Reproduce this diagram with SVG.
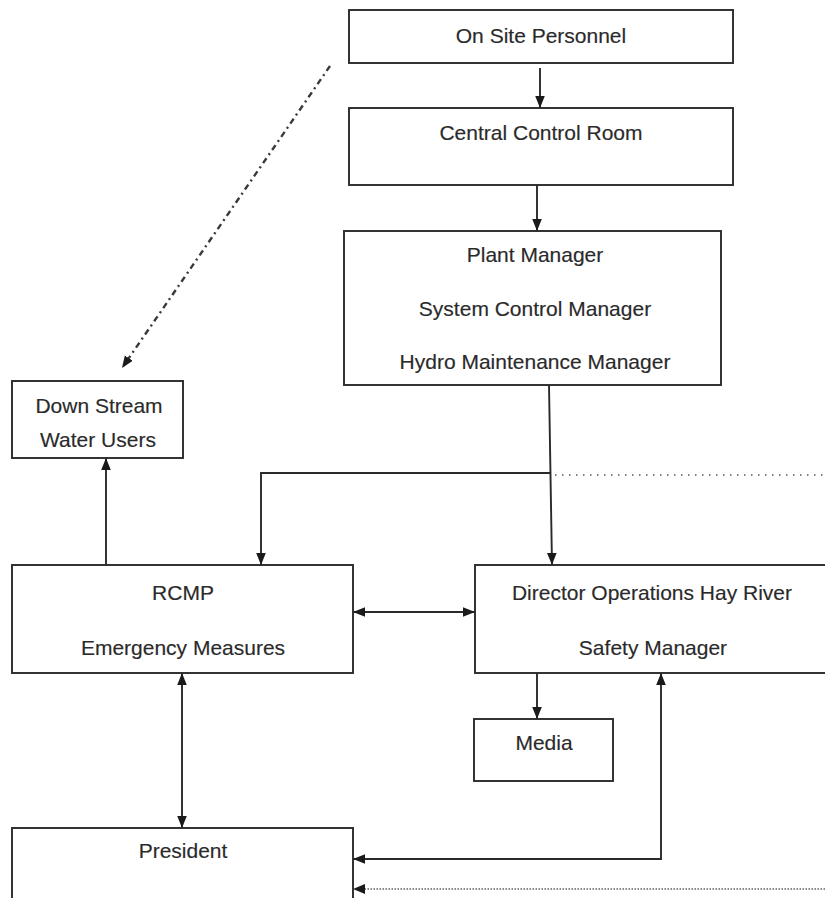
<svg xmlns="http://www.w3.org/2000/svg" width="825" height="898" viewBox="0 0 825 898">
<style>
.box{fill:#fff;stroke:#2a2a2a;stroke-width:1.9}
.t{font-family:"Liberation Sans",Arial,sans-serif;font-size:21px;fill:#2a2a2a;stroke:#2a2a2a;stroke-width:0.15;text-anchor:middle}
.c{fill:none;stroke:#2a2a2a;stroke-width:1.9}
.dot{fill:none;stroke:#555;stroke-width:1.6;stroke-dasharray:1.5 5.5}
.dot2{fill:none;stroke:#888;stroke-width:2;stroke-dasharray:1.5 1.5}
.dd{fill:none;stroke:#3a3a3a;stroke-width:2.4;stroke-dasharray:6 4 2 4}
</style>
<defs>
<marker id="arr" viewBox="0 0 10 10" refX="10" refY="5" markerWidth="12" markerHeight="12" markerUnits="userSpaceOnUse" orient="auto-start-reverse">
<path d="M0,1 L10,5 L0,9 z" fill="#1a1a1a"/>
</marker>
</defs>
<rect width="825" height="898" fill="#fff"/>
<g id="connectors">
<line class="c" x1="540" y1="68" x2="540" y2="108" marker-end="url(#arr)"/>
<line class="c" x1="537" y1="181" x2="537" y2="231" marker-end="url(#arr)"/>
<line class="c" x1="549" y1="385" x2="552" y2="565" marker-end="url(#arr)"/>
<path class="c" d="M551,473 H261 V565" marker-end="url(#arr)"/>
<path class="dot" d="M555,475 H825"/>
<line class="c" x1="106" y1="565" x2="106" y2="458" marker-end="url(#arr)"/>
<line class="c" x1="353" y1="612" x2="475" y2="612" marker-start="url(#arr)" marker-end="url(#arr)"/>
<line class="c" x1="182" y1="673" x2="182" y2="828" marker-start="url(#arr)" marker-end="url(#arr)"/>
<line class="c" x1="537" y1="673" x2="537" y2="719" marker-end="url(#arr)"/>
<path class="c" d="M661,673 V859 H353" marker-start="url(#arr)" marker-end="url(#arr)"/>
<path class="dot2" d="M825,889 H363"/>
<path d="M365,884 L353,889 L365,894 z" fill="#1a1a1a"/>
<path class="dd" d="M330,66 L122,368" marker-end="url(#arr)"/>
</g>
<g id="on-site-personnel">
<rect class="box" x="349" y="10" width="384" height="53"/>
<text class="t" x="541" y="43">On Site Personnel</text>
</g>
<g id="central-control-room">
<rect class="box" x="349" y="108" width="384" height="77"/>
<text class="t" x="541" y="140">Central Control Room</text>
</g>
<g id="plant-manager">
<rect class="box" x="344" y="231" width="377" height="154"/>
<text class="t" x="535" y="262">Plant Manager</text>
<text class="t" x="535" y="316">System Control Manager</text>
<text class="t" x="535" y="369">Hydro Maintenance Manager</text>
</g>
<g id="down-stream-water-users">
<rect class="box" x="12" y="381" width="171" height="77"/>
<text class="t" x="99" y="413">Down Stream</text>
<text class="t" x="98" y="447">Water Users</text>
</g>
<g id="rcmp">
<rect class="box" x="12" y="565" width="341" height="108"/>
<text class="t" x="183" y="600">RCMP</text>
<text class="t" x="183" y="655">Emergency Measures</text>
</g>
<g id="director-operations">
<rect class="box" x="475" y="565" width="370" height="108"/>
<text class="t" x="652" y="600">Director Operations Hay River</text>
<text class="t" x="653" y="655">Safety Manager</text>
</g>
<g id="media">
<rect class="box" x="474" y="719" width="139" height="62"/>
<text class="t" x="544" y="750">Media</text>
</g>
<g id="president">
<rect class="box" x="12" y="828" width="341" height="90"/>
<text class="t" x="183" y="858">President</text>
</g>
</svg>
